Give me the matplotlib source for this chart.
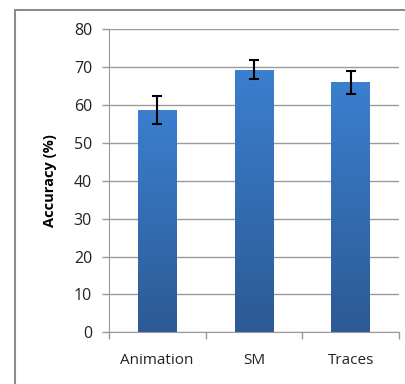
import matplotlib
matplotlib.use("Agg")
import matplotlib.pyplot as plt
import numpy as np
from matplotlib.patches import Rectangle
from matplotlib.colors import LinearSegmentedColormap

categories = ["Animation", "SM", "Traces"]
accuracy = [58.7, 69.3, 66.0]
errors = [3.6, 2.5, 3.0]
yticks = [0, 10, 20, 30, 40, 50, 60, 70, 80]

W, H = 406, 384
fig = plt.figure(figsize=(W / 100, H / 100), dpi=100)
plt.rcParams['font.family'] = ['Open Sans', 'DejaVu Sans']

# outer chart frame (cut off at right and bottom)
fig.patches.append(Rectangle((15 / W, -0.1), 1.2, 1.1 - 10 / H, transform=fig.transFigure,
                             fill=False, edgecolor='#8c8c8c', linewidth=1.5))

ax = fig.add_axes([108.7 / W, 1 - 332.3 / H, (399.3 - 108.7) / W, (332.3 - 29.3) / H])
x = np.arange(len(categories))
bars = ax.bar(x, accuracy, width=0.4, color='#3773bd', zorder=2)

cmap = LinearSegmentedColormap.from_list('g', ['#2c5a94', '#3b7fcf'])
grad = np.linspace(0, 1, 256).reshape(-1, 1)
for b in bars:
    bx, by, bw, bh = b.get_x(), b.get_y(), b.get_width(), b.get_height()
    im = ax.imshow(grad, cmap=cmap, origin='lower', aspect='auto',
                   extent=[bx, bx + bw, 0, bh], zorder=2.5)
    im.set_clip_path(b)

ax.errorbar(x, accuracy, yerr=errors, fmt='none', ecolor='black', elinewidth=1.5,
            capsize=3.5, capthick=1.5, zorder=3)

ax.set_xlim(-0.5, len(categories) - 0.5)
ax.set_ylim(0, 80)
ax.set_yticks(yticks)
ax.set_yticklabels([str(t) for t in yticks], fontsize=11.5, color='#222222')
ax.set_xticks(x)
ax.set_xticklabels(categories, fontsize=11, color='#222222')
ax.tick_params(axis='x', length=0, pad=15)
ax.tick_params(axis='y', length=5, color='#999999', width=1, pad=7)
ax.set_xticks(np.arange(-0.5, len(categories), 1), minor=True)
ax.tick_params(axis='x', which='minor', length=5, color='#999999', width=1)
ax.yaxis.grid(True, color='#9a9a9a', linewidth=1, zorder=0)
ax.set_axisbelow(True)
for s in ['top', 'right']:
    ax.spines[s].set_visible(False)
ax.spines['left'].set_color('#999999')
ax.spines['bottom'].set_color('#999999')
ax.set_ylabel('Accuracy (%)', fontsize=10.5, fontweight='bold', labelpad=12)

fig.savefig('out.png', dpi=100)
